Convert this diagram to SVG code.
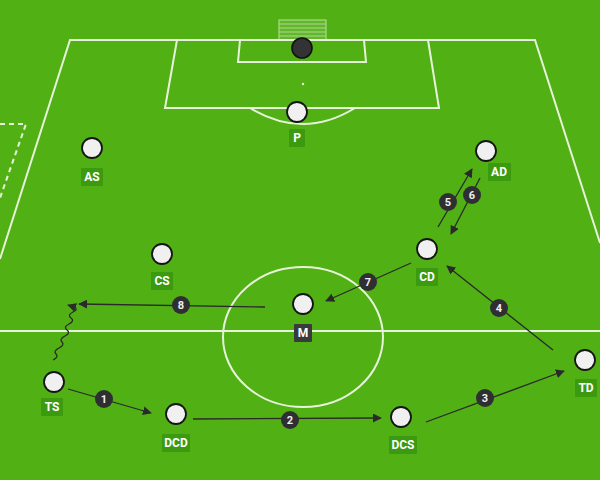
<svg xmlns="http://www.w3.org/2000/svg" width="600" height="480" viewBox="0 0 600 480">
<defs>
<style>
.pitch{fill:none;stroke:#e6f3da;stroke-width:2}
.dash{fill:none;stroke:#e6f3da;stroke-width:2;stroke-dasharray:5 4}
.pl{fill:#f0f0f0;stroke:#151515;stroke-width:1.8}
.lb{fill:#3b9a10}
.lbd{fill:#3a3a3a}
.lt{font-family:Roboto,"Liberation Sans",sans-serif;font-size:12px;font-weight:bold;fill:#ffffff;text-anchor:middle;dominant-baseline:central}
.ar{fill:none;stroke:#2a2a2a;stroke-width:1.3}
.nc{fill:#2e2e33}
.nt{font-family:Roboto,"Liberation Sans",sans-serif;font-size:11px;font-weight:bold;fill:#f0f0f0;text-anchor:middle;dominant-baseline:central}
</style>
<marker id="ah" viewBox="0 0 10 10" refX="9" refY="5" markerWidth="9" markerHeight="9" markerUnits="userSpaceOnUse" orient="auto">
<path d="M0,0 L10,5 L0,10 z" fill="#2a2a2a"/>
</marker>
</defs>
<rect width="600" height="480" fill="#51b014"/>
<g id="pitch">
<path class="pitch" d="M0,259 L70,40 L535,40 L600,243"/>
<line class="pitch" x1="0" y1="331" x2="600" y2="331"/>
<path class="pitch" d="M177,40 L165,108 L439,108 L428,40"/>
<path class="pitch" d="M240,40 L238,62 L366,62 L364,40"/>
<path class="pitch" d="M250,108 Q303,140 355,108"/>
<circle cx="303" cy="84" r="1.2" fill="#e6f3da"/>
<ellipse class="pitch" cx="303" cy="337" rx="80" ry="70"/>
<path class="dash" d="M0,124 L26,124 L0,198"/>
<g id="goal" fill="none" stroke="#e6f3da" stroke-width="1.2" opacity="0.6">
<rect x="279" y="20" width="47" height="20" fill="#e6f3da" fill-opacity="0.2"/>
<line x1="279" y1="24" x2="326" y2="24"/>
<line x1="279" y1="28" x2="326" y2="28"/>
<line x1="279" y1="32" x2="326" y2="32"/>
<line x1="279" y1="36" x2="326" y2="36"/>
</g>
</g>
<g id="connectors">
<line class="ar" x1="68" y1="389" x2="151" y2="413" marker-end="url(#ah)"/>
<line class="ar" x1="193" y1="419" x2="381" y2="418" marker-end="url(#ah)"/>
<line class="ar" x1="426" y1="422" x2="564" y2="371" marker-end="url(#ah)"/>
<line class="ar" x1="553" y1="350" x2="447" y2="266" marker-end="url(#ah)"/>
<line class="ar" x1="438" y1="227" x2="472" y2="169" marker-end="url(#ah)"/>
<line class="ar" x1="480" y1="178" x2="451" y2="234" marker-end="url(#ah)"/>
<line class="ar" x1="411" y1="263" x2="326" y2="301" marker-end="url(#ah)"/>
<line class="ar" x1="265" y1="307" x2="79" y2="304" marker-end="url(#ah)"/>
<path class="ar" d="M53,360 q6,-3 3,-6 t3,-6 t3,-6 t3,-6 t2,-6 t2,-6 t2,-6 t2,-6 t1,-5 L68,305" marker-end="url(#ah)"/>
<circle class="nc" cx="104" cy="399" r="9"/><text class="nt" x="104" y="399">1</text>
<circle class="nc" cx="290" cy="420" r="9"/><text class="nt" x="290" y="420">2</text>
<circle class="nc" cx="485" cy="398" r="9"/><text class="nt" x="485" y="398">3</text>
<circle class="nc" cx="499" cy="308" r="9"/><text class="nt" x="499" y="308">4</text>
<circle class="nc" cx="448" cy="202" r="9"/><text class="nt" x="448" y="202">5</text>
<circle class="nc" cx="472" cy="195" r="9"/><text class="nt" x="472" y="195">6</text>
<circle class="nc" cx="368" cy="282" r="9"/><text class="nt" x="368" y="282">7</text>
<circle class="nc" cx="181" cy="305" r="9"/><text class="nt" x="181" y="305">8</text>
</g>
<g id="ball"><circle cx="302" cy="48" r="10" fill="#333336" stroke="#111" stroke-width="1.6"/></g>
<g id="P"><circle class="pl" cx="297" cy="112" r="10"/><rect class="lb" x="289" y="129" width="16" height="18" rx="1"/><text class="lt" x="297" y="138">P</text></g>
<g id="AS"><circle class="pl" cx="92" cy="148" r="10"/><rect class="lb" x="81" y="168" width="22" height="18" rx="1"/><text class="lt" x="92" y="177">AS</text></g>
<g id="CS"><circle class="pl" cx="162" cy="254" r="10"/><rect class="lb" x="151" y="272" width="22" height="18" rx="1"/><text class="lt" x="162" y="281">CS</text></g>
<g id="AD"><circle class="pl" cx="486" cy="151" r="10"/><rect class="lb" x="488" y="163" width="23" height="18" rx="1"/><text class="lt" x="499" y="172">AD</text></g>
<g id="CD"><circle class="pl" cx="427" cy="249" r="10"/><rect class="lb" x="416" y="268" width="22" height="18" rx="1"/><text class="lt" x="427" y="277">CD</text></g>
<g id="M"><circle class="pl" cx="303" cy="304" r="10"/><rect class="lbd" x="294" y="324" width="18" height="18" rx="1"/><text class="lt" x="303" y="333">M</text></g>
<g id="TS"><circle class="pl" cx="54" cy="382" r="10"/><rect class="lb" x="41" y="398" width="22" height="18" rx="1"/><text class="lt" x="52" y="407">TS</text></g>
<g id="DCD"><circle class="pl" cx="176" cy="414" r="10"/><rect class="lb" x="162" y="434" width="28" height="18" rx="1"/><text class="lt" x="176" y="443">DCD</text></g>
<g id="DCS"><circle class="pl" cx="401" cy="417" r="10"/><rect class="lb" x="389" y="436" width="28" height="18" rx="1"/><text class="lt" x="403" y="445">DCS</text></g>
<g id="TD"><circle class="pl" cx="585" cy="360" r="10"/><rect class="lb" x="575" y="379" width="22" height="18" rx="1"/><text class="lt" x="586" y="388">TD</text></g>
</svg>
